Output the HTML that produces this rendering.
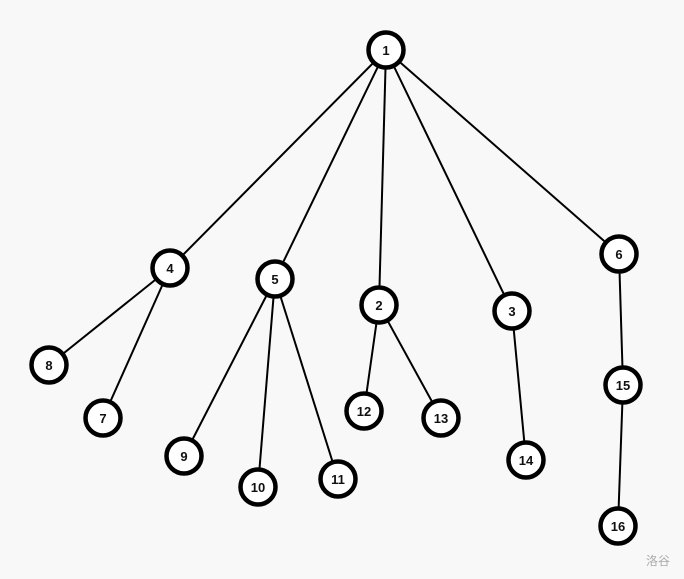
<!DOCTYPE html>
<html><head><meta charset="utf-8"><style>
html,body{margin:0;padding:0;background:#f8f8f8;}
svg{display:block;}
text{font-family:"Liberation Sans",sans-serif;font-weight:bold;font-size:13px;fill:#111;}
</style></head><body>
<svg width="684" height="579" viewBox="0 0 684 579" xmlns="http://www.w3.org/2000/svg">
<rect width="684" height="579" fill="#f8f8f8"/>
<g stroke="#000" stroke-width="2">
<line x1="386" y1="50" x2="170" y2="268"/>
<line x1="386" y1="50" x2="275" y2="279"/>
<line x1="386" y1="50" x2="379" y2="305"/>
<line x1="386" y1="50" x2="512" y2="311"/>
<line x1="386" y1="50" x2="619" y2="254"/>
<line x1="170" y1="268" x2="49" y2="365"/>
<line x1="170" y1="268" x2="103" y2="418"/>
<line x1="275" y1="279" x2="184" y2="456"/>
<line x1="275" y1="279" x2="258" y2="487"/>
<line x1="275" y1="279" x2="338" y2="479"/>
<line x1="379" y1="305" x2="364" y2="411"/>
<line x1="379" y1="305" x2="441" y2="418"/>
<line x1="512" y1="311" x2="526" y2="460"/>
<line x1="619" y1="254" x2="623" y2="385"/>
<line x1="623" y1="385" x2="618" y2="526"/>
</g>
<g fill="#fff" stroke="#000" stroke-width="4.5">
<circle cx="386" cy="50" r="17.5"/>
<circle cx="170" cy="268" r="17.5"/>
<circle cx="275" cy="279" r="17.5"/>
<circle cx="379" cy="305" r="17.5"/>
<circle cx="512" cy="311" r="17.5"/>
<circle cx="619" cy="254" r="17.5"/>
<circle cx="49" cy="365" r="17.5"/>
<circle cx="103" cy="418" r="17.5"/>
<circle cx="184" cy="456" r="17.5"/>
<circle cx="258" cy="487" r="17.5"/>
<circle cx="338" cy="479" r="17.5"/>
<circle cx="364" cy="411" r="17.5"/>
<circle cx="441" cy="418" r="17.5"/>
<circle cx="526" cy="460" r="17.5"/>
<circle cx="623" cy="385" r="17.5"/>
<circle cx="618" cy="526" r="17.5"/>
</g>
<g text-anchor="middle">
<text x="386" y="55">1</text>
<text x="170" y="273">4</text>
<text x="275" y="284">5</text>
<text x="379" y="310">2</text>
<text x="512" y="316">3</text>
<text x="619" y="259">6</text>
<text x="49" y="370">8</text>
<text x="103" y="423">7</text>
<text x="184" y="461">9</text>
<text x="258" y="492">10</text>
<text x="338" y="484">11</text>
<text x="364" y="416">12</text>
<text x="441" y="423">13</text>
<text x="526" y="465">14</text>
<text x="623" y="390">15</text>
<text x="618" y="531">16</text>
</g>
<text x="658" y="565" text-anchor="middle" style="font-family:'Liberation Sans','Noto Sans CJK SC',sans-serif;font-weight:normal;font-size:12px;fill:#aaa;">洛谷</text>
</svg>
</body></html>
